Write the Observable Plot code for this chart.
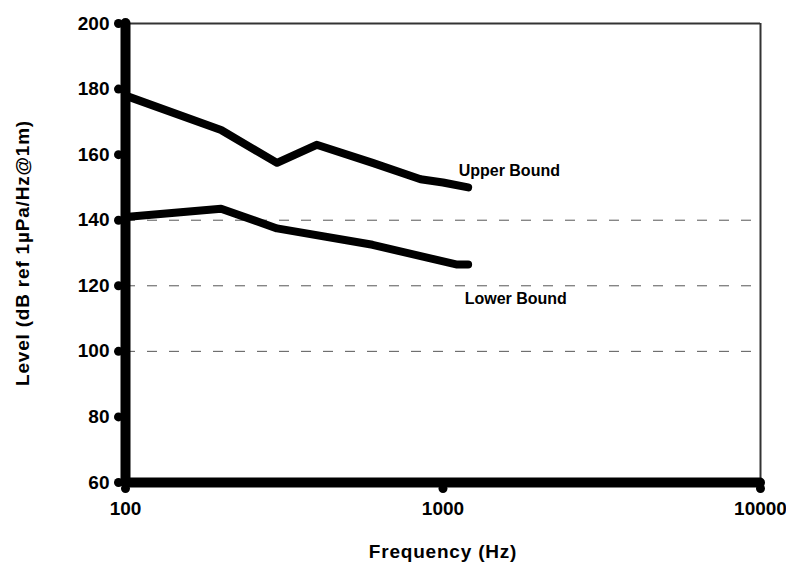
<!DOCTYPE html>
<html><head><meta charset="utf-8">
<script src="https://cdn.jsdelivr.net/npm/d3@7"></script>
<script src="https://cdn.jsdelivr.net/npm/@observablehq/plot@0.6"></script>
<style>body{margin:0;background:#fff}</style>
</head><body><div id="chart"></div>
<script>
const upperFreq = [100, 200, 300, 400, 600, 850, 1000, 1200];
const upperLevel = [178, 167.5, 157.5, 163, 157.5, 152.5, 151.5, 150];
const lowerFreq = [100, 200, 300, 600, 1100, 1200];
const lowerLevel = [141, 143.5, 137.5, 132.5, 126.5, 126.5];
const xTicks = [100, 1000, 10000];
const yTicks = [60, 80, 100, 120, 140, 160, 180, 200];
const gridLevels = [100, 120, 140];
const labelNames = ["Upper Bound", "Lower Bound"];
const labelFreq = [1120, 1170];
const labelLevel = [155.2, 116];
const xTitle = "Frequency (Hz)";
const yTitle = "Level (dB ref 1µPa/Hz@1m)";

const upper = upperFreq.map((f, i) => ({f, v: upperLevel[i]}));
const lower = lowerFreq.map((f, i) => ({f, v: lowerLevel[i]}));
const labels = labelNames.map((t, i) => ({t, f: labelFreq[i], v: labelLevel[i]}));

const chart = Plot.plot({
  width: 786, height: 564,
  marginLeft: 125, marginRight: 26, marginTop: 23, marginBottom: 82,
  x: {type: "log", domain: [100, 10000]},
  y: {domain: [60, 200]},
  style: {fontFamily: "'Liberation Sans', Arial, sans-serif", fontWeight: "bold", fontSize: "19px", color: "black", background: "white"},
  marks: [
    Plot.ruleY(gridLevels, {y: d => d, stroke: "#555", strokeWidth: 1, strokeDasharray: "10,12"}),
    Plot.ruleY([200], {y: d => d, stroke: "#333", strokeWidth: 2}),
    Plot.ruleX([10000], {x: d => d, stroke: "#333", strokeWidth: 2}),
    Plot.line(upper, {x: "f", y: "v", stroke: "black", strokeWidth: 8, strokeLinejoin: "round", strokeLinecap: "round"}),
    Plot.line(lower, {x: "f", y: "v", stroke: "black", strokeWidth: 8, strokeLinejoin: "round", strokeLinecap: "round"}),
    Plot.ruleX([100], {x: d => d, stroke: "black", strokeWidth: 10, strokeLinecap: "round"}),
    Plot.ruleY([60], {y: d => d, stroke: "black", strokeWidth: 10, strokeLinecap: "round"}),
    Plot.dot(yTicks, {x: () => 100, y: d => d, r: 4.5, fill: "black", stroke: null, dx: -7}),
    Plot.dot(xTicks, {x: d => d, y: () => 60, r: 4.5, fill: "black", stroke: null, dy: 6}),
    Plot.axisY({ticks: yTicks, tickSize: 0, tickPadding: 16, label: null, tickFormat: d => String(d), fontSize: 19}),
    Plot.axisX({ticks: xTicks, tickSize: 0, tickPadding: 19, label: null, tickFormat: d => String(d), fontSize: 19}),
    Plot.text(labels, {x: "f", y: "v", text: "t", textAnchor: "start", fontSize: 16, fontWeight: "bold"}),
    Plot.text([xTitle], {frameAnchor: "bottom", dy: 69, textAnchor: "middle", lineAnchor: "middle", fontSize: 19, fontWeight: "bold"}),
    Plot.text([yTitle], {frameAnchor: "left", rotate: -90, dx: -103, textAnchor: "middle", lineAnchor: "middle", fontSize: 19, fontWeight: "bold"})
  ]
});
d3.select(chart).selectAll("text")
  .filter(function() { const t = this.textContent; return t === xTitle || t === yTitle; })
  .attr("letter-spacing", "0.8px");
document.getElementById("chart").appendChild(chart);
</script></body></html>
